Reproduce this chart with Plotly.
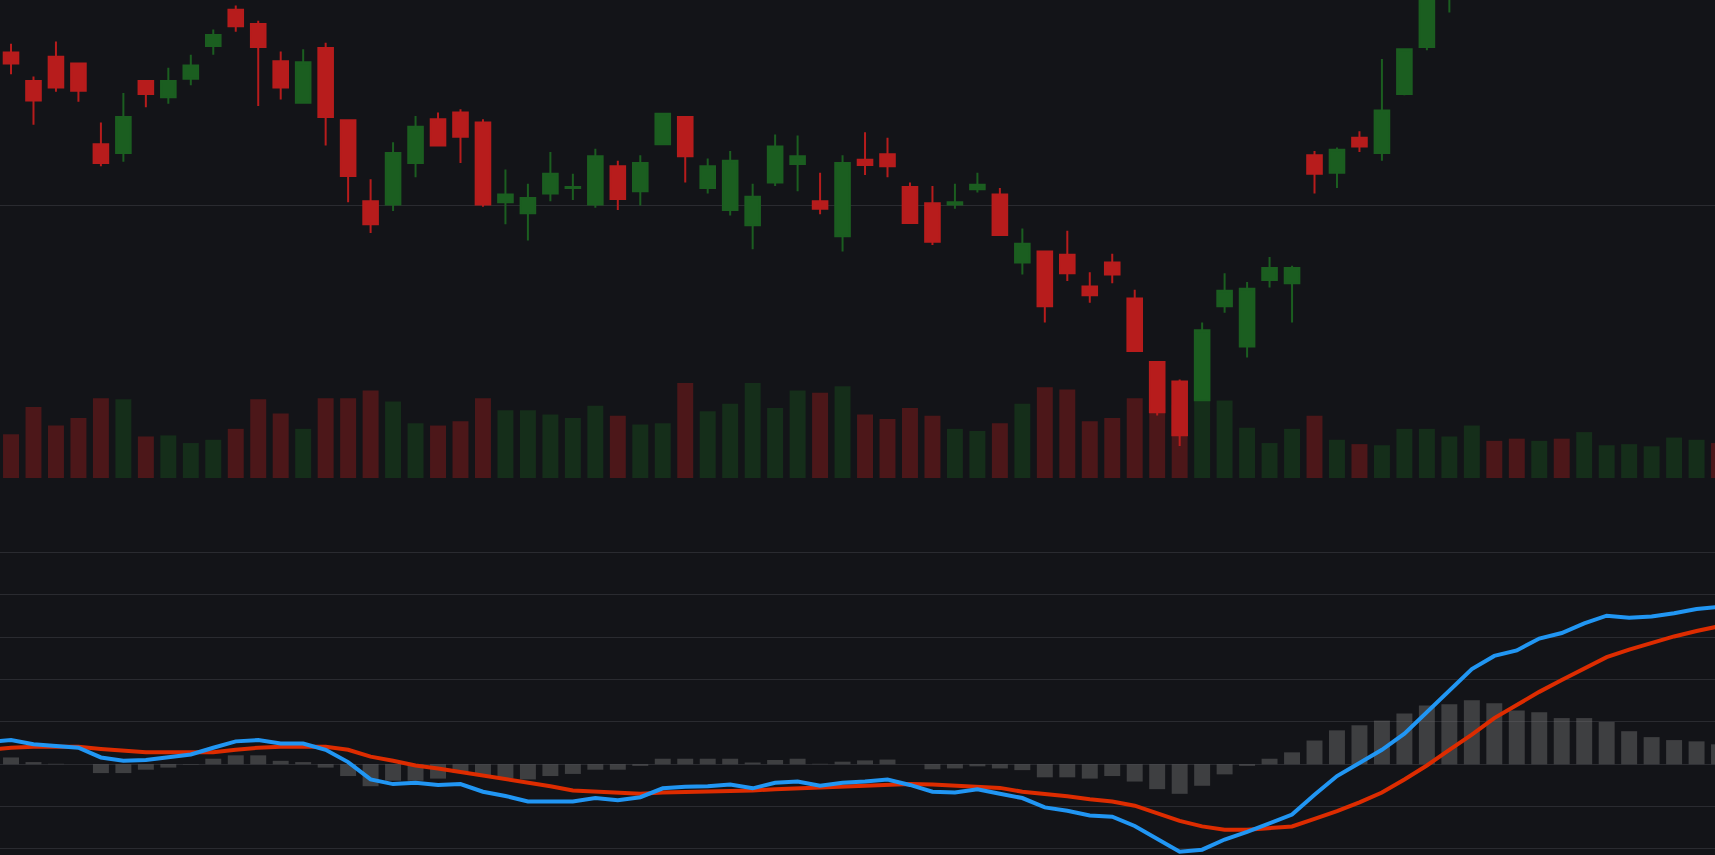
import plotly.graph_objs as go

# daily candles (only the ones inside the view; later ones run off the top)
opens = [22.80, 22.28, 22.72, 22.60, 21.12, 20.96, 22.28, 21.98, 22.32, 22.92,
         23.58, 23.32, 22.64, 21.88, 22.88, 21.56, 20.08, 20.02, 20.78, 21.58,
         21.70, 21.52, 20.06, 19.86, 20.22, 20.32, 20.02, 20.72, 20.26, 21.12,
         21.62, 20.32, 19.92, 19.64, 20.42, 20.76, 20.08, 19.44, 20.84, 20.94,
         20.34, 20.04, 20.02, 20.30, 20.20, 18.96, 19.16, 19.10, 18.52, 18.96,
         18.30, 17.14, 16.78, 16.44, 18.16, 17.42, 18.64, 18.58, 20.92, 20.60,
         21.24, 20.96, 22.04, 22.90, 23.95]
highs = [22.96, 22.36, 23.00, 22.60, 21.52, 22.06, 22.28, 22.52, 22.76, 23.22,
         23.66, 23.38, 22.82, 22.86, 22.98, 21.56, 20.48, 21.16, 21.64, 21.70,
         21.76, 21.58, 20.66, 20.40, 20.98, 20.58, 21.04, 20.82, 20.92, 21.68,
         21.62, 20.86, 21.00, 20.40, 21.30, 21.28, 20.60, 20.92, 21.34, 21.24,
         20.42, 20.36, 20.40, 20.60, 20.32, 19.58, 19.16, 19.54, 18.78, 19.12,
         18.46, 17.14, 16.82, 17.86, 18.76, 18.60, 19.06, 18.90, 21.00, 21.06,
         21.36, 22.68, 22.86, 23.85, 24.80]
lows = [22.40, 21.48, 22.08, 21.90, 20.72, 20.80, 21.80, 21.86, 22.20, 22.76,
        23.18, 21.82, 21.94, 21.86, 21.10, 20.06, 19.50, 19.90, 20.52, 21.10,
        20.78, 19.98, 19.66, 19.36, 20.08, 20.10, 19.96, 19.92, 20.00, 21.12,
        20.42, 20.22, 19.82, 19.20, 20.36, 20.26, 19.84, 19.16, 20.56, 20.52,
        19.68, 19.28, 19.94, 20.24, 19.46, 18.74, 17.86, 18.62, 18.22, 18.58,
        17.34, 16.16, 15.60, 16.44, 18.04, 17.22, 18.50, 17.86, 20.22, 20.32,
        20.98, 20.82, 22.02, 22.84, 23.53]
closes = [22.60, 21.92, 22.16, 22.10, 20.78, 21.62, 22.04, 22.28, 22.56, 23.12,
          23.28, 22.90, 22.16, 22.62, 21.62, 20.54, 19.66, 20.96, 21.44, 21.10,
          21.26, 20.02, 20.20, 20.14, 20.58, 20.34, 20.90, 20.12, 20.78, 21.68,
          20.90, 20.72, 20.82, 20.16, 21.08, 20.90, 19.94, 20.78, 20.74, 20.72,
          19.68, 19.34, 20.06, 20.38, 19.46, 19.30, 18.16, 18.76, 18.36, 18.74,
          17.34, 16.22, 15.80, 17.72, 18.44, 18.48, 18.86, 18.86, 20.58, 21.02,
          21.08, 21.74, 22.86, 23.74, 24.60]

# volume (thousands) and direction of each day, for the whole window
volume = [1000, 1625, 1200, 1375, 1825, 1800, 950, 975, 800, 875,
          1125, 1800, 1475, 1125, 1825, 1825, 2000, 1750, 1250, 1200,
          1300, 1825, 1550, 1550, 1450, 1375, 1650, 1425, 1225, 1250,
          2175, 1525, 1700, 2175, 1600, 2000, 1950, 2100, 1450, 1350,
          1600, 1425, 1125, 1075, 1250, 1700, 2075, 2025, 1300, 1375,
          1825, 1600, 1675, 1800, 1775, 1150, 800, 1125, 1425, 875,
          775, 750, 1125, 1125, 950, 1200, 850, 900, 850, 900,
          1050, 750, 775, 725, 925, 875, 800]
vol_dir = ['d', 'd', 'd', 'd', 'd', 'u', 'd', 'u', 'u', 'u',
           'd', 'd', 'd', 'u', 'd', 'd', 'd', 'u', 'u', 'd',
           'd', 'd', 'u', 'u', 'u', 'u', 'u', 'd', 'u', 'u',
           'd', 'u', 'u', 'u', 'u', 'u', 'd', 'u', 'd', 'd',
           'd', 'd', 'u', 'u', 'd', 'u', 'd', 'd', 'd', 'd',
           'd', 'd', 'd', 'u', 'u', 'u', 'u', 'u', 'd', 'u',
           'd', 'u', 'u', 'u', 'u', 'u', 'd', 'd', 'u', 'd',
           'u', 'u', 'u', 'u', 'u', 'u', 'd']

# MACD (DIF), signal (DEA) and histogram, starting one day before the window
macd = [0.053,
        0.057, 0.047, 0.044, 0.039, 0.016, 0.008, 0.010, 0.016, 0.023, 0.039,
        0.054, 0.057, 0.049, 0.049, 0.034, 0.005, -0.036, -0.047, -0.044, -0.049,
        -0.047, -0.065, -0.075, -0.088, -0.088, -0.088, -0.080, -0.085, -0.078, -0.057,
        -0.053, -0.052, -0.048, -0.057, -0.044, -0.041, -0.051, -0.044, -0.041, -0.036,
        -0.049, -0.065, -0.067, -0.059, -0.070, -0.080, -0.102, -0.110, -0.121, -0.124,
        -0.146, -0.177, -0.207, -0.202, -0.178, -0.160, -0.140, -0.119, -0.072, -0.028,
        0.003, 0.034, 0.072, 0.124, 0.176, 0.225, 0.256, 0.269, 0.297, 0.310,
        0.333, 0.351, 0.346, 0.349, 0.357, 0.367, 0.372]
signal = [0.034,
          0.039, 0.041, 0.041, 0.041, 0.036, 0.031, 0.028, 0.028, 0.028, 0.028,
          0.034, 0.039, 0.041, 0.041, 0.041, 0.034, 0.018, 0.008, -0.003, -0.010,
          -0.018, -0.026, -0.034, -0.044, -0.052, -0.062, -0.065, -0.067, -0.070, -0.067,
          -0.066, -0.065, -0.063, -0.062, -0.059, -0.057, -0.054, -0.052, -0.049, -0.048,
          -0.047, -0.048, -0.051, -0.052, -0.056, -0.065, -0.070, -0.076, -0.083, -0.088,
          -0.098, -0.116, -0.134, -0.147, -0.155, -0.155, -0.152, -0.147, -0.129, -0.111,
          -0.090, -0.067, -0.036, -0.003, 0.034, 0.070, 0.109, 0.140, 0.171, 0.199,
          0.227, 0.253, 0.271, 0.287, 0.302, 0.315, 0.326]
hist = [0.019,
        0.016, 0.005, 0.001, 0.0, -0.021, -0.021, -0.013, -0.008, -0.001, 0.013,
        0.021, 0.021, 0.008, 0.005, -0.008, -0.028, -0.052, -0.039, -0.039, -0.034,
        -0.021, -0.028, -0.034, -0.036, -0.028, -0.023, -0.013, -0.013, -0.004, 0.013,
        0.013, 0.013, 0.013, 0.004, 0.010, 0.013, 0.001, 0.006, 0.009, 0.011,
        0.0, -0.012, -0.010, -0.005, -0.010, -0.014, -0.031, -0.031, -0.034, -0.028,
        -0.041, -0.059, -0.070, -0.051, -0.024, -0.004, 0.013, 0.028, 0.056, 0.080,
        0.092, 0.103, 0.120, 0.139, 0.142, 0.151, 0.144, 0.127, 0.123, 0.109,
        0.109, 0.100, 0.078, 0.064, 0.057, 0.054, 0.047]

days = list(range(len(volume)))
macd_days = list(range(-1, len(macd) - 1))

bg = '#131418'
grid = '#2a2b30'
up = '#1b5e20'
down = '#b71c1c'
vol_colors = ['rgba(27,94,32,0.35)' if d == 'u' else 'rgba(183,28,28,0.35)' for d in vol_dir]

vol_trace = go.Bar(x=days, y=volume, marker=dict(color=vol_colors, line=dict(width=0)),
                   xaxis='x', yaxis='y', hoverinfo='skip')
candles = go.Candlestick(
    x=days[:len(opens)], open=opens, high=highs, low=lows, close=closes,
    increasing=dict(line=dict(color=up, width=2), fillcolor=up),
    decreasing=dict(line=dict(color=down, width=2), fillcolor=down),
    whiskerwidth=0, xaxis='x', yaxis='y3'
)
hist_trace = go.Bar(x=macd_days, y=hist, marker=dict(color='rgba(128,128,128,0.4)', line=dict(width=0)),
                    xaxis='x2', yaxis='y2')
signal_trace = go.Scatter(x=macd_days, y=signal, mode='lines', line=dict(color='#dd2c00', width=4),
                          xaxis='x2', yaxis='y2')
macd_trace = go.Scatter(x=macd_days, y=macd, mode='lines', line=dict(color='#2196f3', width=4),
                        xaxis='x2', yaxis='y2')

layout = go.Layout(
    width=1715,
    height=855,
    margin=dict(l=0, r=0, t=0, b=0),
    paper_bgcolor=bg,
    plot_bgcolor=bg,
    showlegend=False,
    bargap=0.29,
    boxgap=0.35,
    boxgroupgap=0,
    xaxis=dict(domain=[0, 1], range=[-0.49, 75.82], anchor='y', showgrid=False,
               zeroline=False, showticklabels=False, ticks='', rangeslider=dict(visible=False)),
    yaxis=dict(domain=[0.4409, 1], range=[0, 10929], visible=False, showgrid=False, zeroline=False),
    yaxis3=dict(overlaying='y', anchor='x', range=[15.016, 23.76], tickvals=[20],
                showgrid=True, gridcolor=grid, gridwidth=1, zeroline=False,
                showticklabels=False, ticks=''),
    xaxis2=dict(domain=[0, 1], matches='x', anchor='y2', showgrid=False, zeroline=False,
                showticklabels=False, ticks=''),
    yaxis2=dict(domain=[0, 0.3918], range=[-0.2146, 0.5772], tick0=0, dtick=0.1,
                showgrid=True, gridcolor=grid, gridwidth=1, zeroline=False,
                showticklabels=False, ticks=''),
)

fig = go.Figure(data=[vol_trace, candles, hist_trace, signal_trace, macd_trace], layout=layout)
fig.write_html("out.html", config=dict(displayModeBar=False),
               post_script="document.body.style.margin='0';document.body.style.overflow='hidden';"
                           "document.body.style.background='%s';" % bg)
